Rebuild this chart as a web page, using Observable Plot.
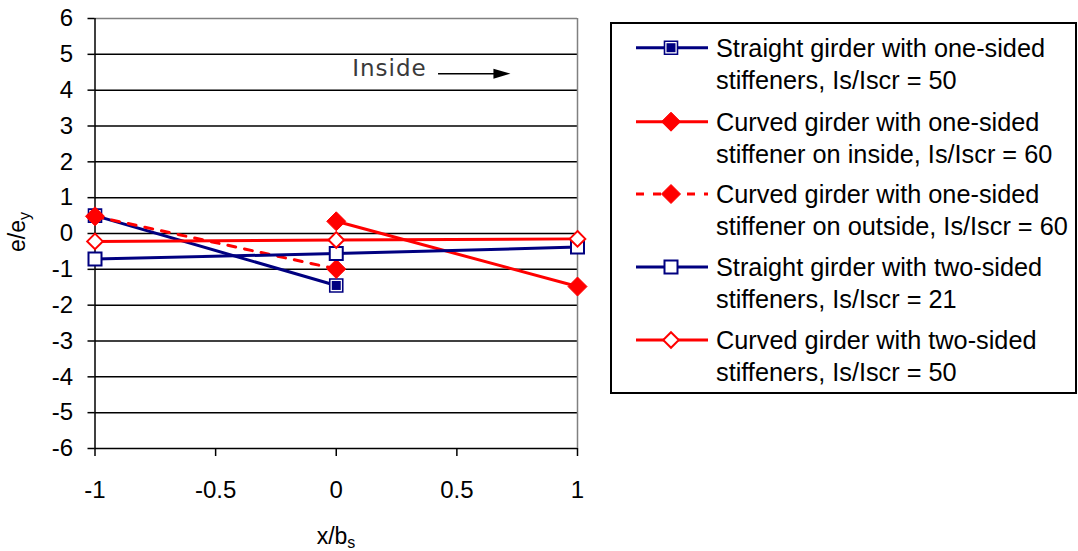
<!DOCTYPE html>
<html>
<head>
<meta charset="utf-8">
<script src="https://cdn.jsdelivr.net/npm/d3@7"></script>
<script src="https://cdn.jsdelivr.net/npm/@observablehq/plot@0.6"></script>
<style>
  body { margin: 0; background: #fff; }
  #chart { width: 1078px; height: 551px; }
</style>
</head>
<body>
<div id="chart"></div>
<script>
// Axis ticks
const xTicks = [-1, -0.5, 0, 0.5, 1];
const yTicks = [-6, -5, -4, -3, -2, -1, 0, 1, 2, 3, 4, 5, 6];

// Series: position across the flange (x/bs) and strain ratio (e/ey)
const straightOneX = [-1, 0];
const straightOneY = [0.5, -1.45];
const curvedInsideX = [0, 1];
const curvedInsideY = [0.34, -1.48];
const curvedOutsideX = [-1, 0];
const curvedOutsideY = [0.48, -0.99];
const straightTwoX = [-1, 0, 1];
const straightTwoY = [-0.71, -0.56, -0.38];
const curvedTwoX = [-1, 0, 1];
const curvedTwoY = [-0.22, -0.18, -0.15];

// Legend text, two lines per entry
const legendLines = [
  ["Straight girder with one-sided", "stiffeners, Is/Iscr = 50"],
  ["Curved girder with one-sided", "stiffener on inside, Is/Iscr = 60"],
  ["Curved girder with one-sided", "stiffener on outside, Is/Iscr = 60"],
  ["Straight girder with two-sided", "stiffeners, Is/Iscr = 21"],
  ["Curved girder with two-sided", "stiffeners, Is/Iscr = 50"]
];

const navy = "#000080";
const red = "#ff0000";
const font = '"Liberation Sans", Arial, sans-serif';

const rows = (xs, ys) => xs.map((x, i) => ({x, y: ys[i]}));
const d1 = rows(straightOneX, straightOneY);
const d2 = rows(curvedInsideX, curvedInsideY);
const d3s = rows(curvedOutsideX, curvedOutsideY);
const d4 = rows(straightTwoX, straightTwoY);
const d5 = rows(curvedTwoX, curvedTwoY);

// radius for a square symbol of a given side, and a diamond of a given half-diagonal
const rSquare = side => side / Math.sqrt(Math.PI);
const rDiamond = half => half / (0.62625 * Math.sqrt(Math.PI));

// filled right-pointing arrow head, tip at the anchor point
const arrowHead = {
  draw(context) {
    context.moveTo(0, 0);
    context.lineTo(-17, -5);
    context.lineTo(-17, 5);
    context.closePath();
  }
};

const markers = {
  filledSquare: (data) => [
    Plot.dot(data, {x: "x", y: "y", symbol: "square", r: rSquare(13), fill: "#fff", stroke: navy, strokeWidth: 1.6}),
    Plot.dot(data, {x: "x", y: "y", symbol: "square", r: rSquare(9), fill: navy, stroke: "none"})
  ],
  filledDiamond: (data) => [
    Plot.dot(data, {x: "x", y: "y", symbol: "diamond2", r: rDiamond(9.5), fill: red, stroke: red, strokeWidth: 1})
  ],
  openSquare: (data) => [
    Plot.dot(data, {x: "x", y: "y", symbol: "square", r: rSquare(13), fill: "#fff", stroke: navy, strokeWidth: 2})
  ],
  openDiamond: (data) => [
    Plot.dot(data, {x: "x", y: "y", symbol: "diamond2", r: rDiamond(7.8), fill: "#fff", stroke: red, strokeWidth: 2})
  ]
};

const plot = Plot.plot({
  width: 1078,
  height: 551,
  marginLeft: 94.5,
  marginRight: 501,
  marginTop: 18,
  marginBottom: 103,
  style: {fontFamily: font, fontSize: "24px", color: "#000", background: "#fff", overflow: "visible"},
  x: {domain: [-1, 1]},
  y: {domain: [-6, 6]},
  marks: [
    // horizontal gridlines and plot-area border
    Plot.ruleY(yTicks.filter(d => d < 6), {stroke: "#000", strokeWidth: 1.5}),
    Plot.ruleY([6], {stroke: "#808080", strokeWidth: 1.5}),
    Plot.ruleX([1], {stroke: "#808080", strokeWidth: 1.5}),
    Plot.ruleX([-1], {stroke: "#000", strokeWidth: 1.5}),
    // tick marks
    Plot.axisX({ticks: xTicks, tickFormat: () => "", tickSize: 8, strokeWidth: 1.5, label: null}),
    Plot.axisY({ticks: yTicks, tickFormat: () => "", tickSize: 7, strokeWidth: 1.5, label: null}),
    // tick labels
    Plot.text(xTicks, {x: d => d, y: -6, dy: 42, text: d => String(d), fontSize: 24, fontFamily: font, fill: "#000"}),
    Plot.text(yTicks, {x: -1, y: d => d, dx: -22, text: d => String(d), textAnchor: "end", fontSize: 24, fontFamily: font, fill: "#000"}),

    // direction annotation
    Plot.text(["Inside"], {x: 0.066, y: 4.6, text: d => d, textAnchor: "start", fontFamily: "DejaVu Sans", fontSize: 23, fill: "#3a3a3a"}),
    Plot.ruleY([4.46], {x1: 0.424, x2: 0.68, stroke: "#000", strokeWidth: 1.5}),
    Plot.dot([{x: 0.722, y: 4.46}], {x: "x", y: "y", symbol: arrowHead, fill: "#000", stroke: "none"}),

    // series 1: straight girder, one-sided stiffeners
    Plot.line(d1, {x: "x", y: "y", stroke: navy, strokeWidth: 3}),
    ...markers.filledSquare(d1),
    // series 2: curved girder, stiffener on inside
    Plot.line(d2, {x: "x", y: "y", stroke: red, strokeWidth: 3}),
    ...markers.filledDiamond(d2),
    // series 3: curved girder, stiffener on outside
    Plot.line(d3s, {x: "x", y: "y", stroke: red, strokeWidth: 3, strokeDasharray: "8,9"}),
    ...markers.filledDiamond(d3s),
    // series 4: straight girder, two-sided stiffeners
    Plot.line(d4, {x: "x", y: "y", stroke: navy, strokeWidth: 3}),
    ...markers.openSquare(d4),
    // series 5: curved girder, two-sided stiffeners
    Plot.line(d5, {x: "x", y: "y", stroke: red, strokeWidth: 3}),
    ...markers.openDiamond(d5)
  ]
});

document.getElementById("chart").appendChild(plot);

const svg = d3.select(plot);

// slightly spaced annotation lettering
svg.selectAll("text").filter(function() { return this.textContent === "Inside"; })
  .attr("letter-spacing", 1);

// axis titles with subscripts
const yLabel = svg.append("text")
  .attr("transform", "translate(25,232) rotate(-90)")
  .attr("text-anchor", "middle")
  .attr("font-family", font)
  .attr("font-size", 23)
  .attr("fill", "#000");
yLabel.append("tspan").text("e/e");
yLabel.append("tspan").attr("font-size", 16).attr("dy", 5).text("y");

const xLabel = svg.append("text")
  .attr("x", 336)
  .attr("y", 544)
  .attr("text-anchor", "middle")
  .attr("font-family", font)
  .attr("font-size", 23)
  .attr("fill", "#000");
xLabel.append("tspan").text("x/b");
xLabel.append("tspan").attr("font-size", 16).attr("dy", 4).text("s");

// legend box to the right of the plot
const legend = svg.append("g")
  .attr("font-family", font)
  .attr("font-size", 25.3)
  .attr("text-anchor", "start")
  .attr("fill", "#000");
legend.append("rect")
  .attr("x", 611).attr("y", 23).attr("width", 465).attr("height", 370)
  .attr("fill", "#fff").attr("stroke", "#000").attr("stroke-width", 2);

const legendStyles = [
  {color: navy, dash: null, marker: "filledSquare"},
  {color: red, dash: null, marker: "filledDiamond"},
  {color: red, dash: "8,9", marker: "filledDiamond"},
  {color: navy, dash: null, marker: "openSquare"},
  {color: red, dash: null, marker: "openDiamond"}
];
const rowY = [47.7, 121.7, 194, 267, 340];

legendStyles.forEach((s, i) => {
  const y = rowY[i];
  legend.append("line")
    .attr("x1", 636).attr("x2", 708).attr("y1", y).attr("y2", y)
    .attr("stroke", s.color).attr("stroke-width", 3)
    .attr("stroke-dasharray", s.dash);
  const g = legend.append("g").attr("transform", `translate(671,${y})`);
  if (s.marker === "filledSquare") {
    g.append("path").attr("d", d3.symbol(d3.symbolSquare, 169)()).attr("fill", "#fff").attr("stroke", navy).attr("stroke-width", 1.6);
    g.append("path").attr("d", d3.symbol(d3.symbolSquare, 81)()).attr("fill", navy);
  } else if (s.marker === "filledDiamond") {
    const size = Math.pow(9.5 / 0.62625, 2);
    g.append("path").attr("d", d3.symbol(d3.symbolDiamond2, size)()).attr("fill", red).attr("stroke", red).attr("stroke-width", 1);
  } else if (s.marker === "openSquare") {
    g.append("path").attr("d", d3.symbol(d3.symbolSquare, 169)()).attr("fill", "#fff").attr("stroke", navy).attr("stroke-width", 2);
  } else {
    const size = Math.pow(7.8 / 0.62625, 2);
    g.append("path").attr("d", d3.symbol(d3.symbolDiamond2, size)()).attr("fill", "#fff").attr("stroke", red).attr("stroke-width", 2);
  }
  legendLines[i].forEach((line, j) => {
    legend.append("text")
      .attr("x", 716)
      .attr("y", y + 0.5 + j * 32)
      .attr("dy", "0.35em")
      .text(line);
  });
});
</script>
</body>
</html>
